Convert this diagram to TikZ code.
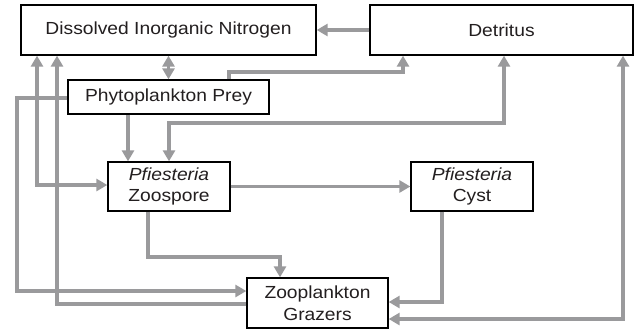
\documentclass[tikz,border=0pt]{standalone}
\usepackage{fontspec}
\setmainfont{Liberation Sans}[FakeStretch=1.1]
\usetikzlibrary{arrows.meta}
\definecolor{conn}{HTML}{9A9A9C}
\definecolor{txt}{HTML}{231F20}
\begin{document}
\begin{tikzpicture}[x=1pt,y=-1pt,
  box/.style={draw=black,line width=1.3pt,fill=white,text=txt,inner sep=0pt,
    font=\fontsize{17.5}{21.7}\selectfont,align=center},
  ar/.style={draw=conn,line width=3.6pt,-{Triangle[length=11pt,width=12pt]}},
  dar/.style={draw=conn,line width=3.6pt,{Triangle[length=11pt,width=12pt]}-{Triangle[length=11pt,width=12pt]}}]
\useasboundingbox (0,0) rectangle (636,332);
\node[box,minimum width=295pt,minimum height=50pt] (din) at (168.5,30) {Dissolved Inorganic Nitrogen};
\node[box,minimum width=263pt,minimum height=50pt] (det) at (501.5,30) {Detritus};
\node[box,minimum width=201pt,minimum height=34pt] (phy) at (168.5,97) {Phytoplankton Prey};
\node[box,minimum width=122pt,minimum height=49pt] (zoo) at (169,186.5) {\textit{Pfiesteria}\\Zoospore};
\node[box,minimum width=122pt,minimum height=49pt] (cyst) at (472,186.5) {\textit{Pfiesteria}\\Cyst};
\node[box,minimum width=141pt,minimum height=50pt] (graz) at (317.5,303) {Zooplankton\\Grazers};
\coordinate (p1) at (229,72);
\coordinate (p2) at (403,72);
\coordinate (q1) at (128,0);
\coordinate (r1) at (504,123);
\coordinate (r2) at (169,123);
\coordinate (s1) at (148,257);
\coordinate (s2) at (280,257);
\coordinate (t1) at (442,302);
\coordinate (u1) at (623,319);
\coordinate (v1) at (17,98);
\coordinate (v2) at (17,291);
\coordinate (w1) at (37,185);
\coordinate (x1) at (57,304);
\draw[ar] (det.west) -- (din.east);
\draw[dar] (phy.north) -- (din.south -| phy.north);
\draw[ar] (phy.north -| p1) -- (p1) -- (p2) -- (det.south -| p2);
\draw[ar] (phy.south -| q1) -- (zoo.north -| q1);
\draw[dar] (det.south -| r1) -- (r1) -- (r2) -- (zoo.north -| r2);
\draw[ar] (zoo.east) -- (cyst.west);
\draw[ar] (zoo.south -| s1) -- (s1) -- (s2) -- (graz.north -| s2);
\draw[ar] (cyst.south -| t1) -- (t1) -- (graz.east |- t1);
\draw[dar] (det.south -| u1) -- (u1) -- (graz.east |- u1);
\draw[ar] (phy.west |- v1) -- (v1) -- (v2) -- (graz.west |- v2);
\draw[dar] (din.south -| w1) -- (w1) -- (zoo.west |- w1);
\draw[ar] (graz.west |- x1) -- (x1) -- (din.south -| x1);
\end{tikzpicture}
\end{document}
